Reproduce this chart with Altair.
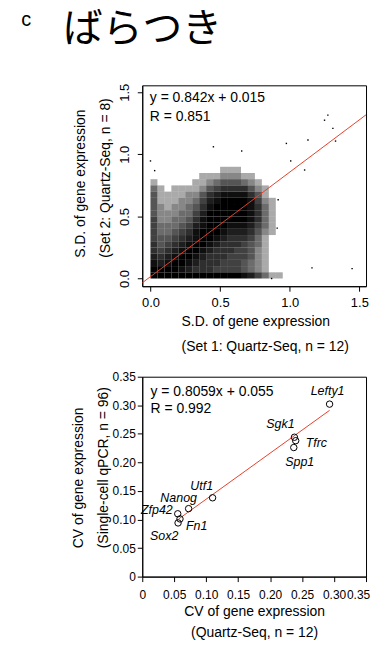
import altair as alt
import pandas as pd

FONT = "Liberation Sans"
JP_FONT = "Noto Sans CJK JP"
RED = "#e8402a"

# ---------------- top panel data (S.D. Set 1 vs Set 2) ----------------
# density of the gene cloud, cells of 0.05 x 0.05
grid_x = [0.00, 0.05, 0.10, 0.15, 0.20, 0.25, 0.30, 0.35, 0.40, 0.45,
          0.50, 0.55, 0.60, 0.65, 0.70, 0.75, 0.80, 0.85, 0.90, 0.95]
grid_y = [0.00, 0.05, 0.10, 0.15, 0.20, 0.25, 0.30, 0.35, 0.40,
          0.45, 0.50, 0.55, 0.60, 0.65, 0.70, 0.75, 0.80, 0.85]
cell = 0.05
density_rows = [  # bottom row (y 0.00) first, values 0..9
    [9, 9, 9, 9, 9, 9, 9, 9, 9, 9, 9, 9, 9, 8, 7, 5, 3, 1, 1, 0],
    [9, 9, 9, 9, 8, 7, 6, 6, 6, 5, 5, 5, 5, 4, 3, 2, 1, 0, 0, 0],
    [8, 7, 8, 9, 9, 8, 7, 6, 6, 6, 5, 5, 5, 4, 3, 2, 1, 0, 0, 0],
    [7, 6, 7, 8, 9, 9, 8, 7, 6, 6, 6, 5, 5, 5, 4, 2, 1, 0, 0, 0],
    [6, 5, 6, 7, 8, 9, 9, 8, 7, 6, 6, 6, 5, 5, 4, 2, 1, 0, 0, 0],
    [6, 4, 5, 6, 7, 8, 9, 9, 8, 7, 6, 6, 6, 5, 4, 3, 1, 0, 0, 0],
    [5, 4, 4, 5, 6, 7, 8, 9, 9, 8, 7, 6, 6, 6, 5, 3, 1, 0, 0, 0],
    [5, 3, 3, 4, 5, 6, 8, 9, 9, 9, 8, 7, 7, 7, 6, 4, 2, 1, 0, 0],
    [5, 3, 3, 3, 4, 5, 7, 8, 9, 9, 9, 8, 8, 8, 7, 5, 3, 1, 0, 0],
    [5, 2, 2, 3, 3, 4, 6, 8, 9, 9, 9, 9, 9, 9, 8, 6, 3, 1, 0, 0],
    [4, 2, 2, 2, 3, 3, 5, 7, 9, 9, 9, 9, 9, 9, 8, 6, 3, 1, 0, 0],
    [4, 2, 1, 2, 2, 3, 4, 6, 8, 9, 9, 9, 9, 9, 8, 6, 3, 1, 0, 0],
    [4, 1, 1, 1, 2, 2, 3, 5, 7, 8, 9, 9, 9, 9, 8, 5, 2, 1, 0, 0],
    [4, 1, 1, 1, 1, 2, 2, 4, 6, 7, 8, 8, 8, 8, 6, 4, 1, 0, 0, 0],
    [3, 1, 0, 1, 1, 1, 1, 2, 4, 5, 6, 6, 6, 6, 4, 2, 1, 0, 0, 0],
    [1, 0, 0, 0, 0, 0, 1, 1, 2, 3, 4, 4, 4, 3, 2, 1, 0, 0, 0, 0],
    [0, 0, 0, 0, 0, 0, 0, 1, 1, 1, 2, 2, 2, 1, 1, 0, 0, 0, 0, 0],
    [0, 0, 0, 0, 0, 0, 0, 0, 0, 0, 1, 1, 1, 0, 0, 0, 0, 0, 0, 0],
]
out_x = [1.274, 1.25, 1.31, 1.329, 1.131, 0.976, 1.007, 0.655, 0.452,
         1.107, 0.0, 0.03, 0.917, 0.91, 1.16, 1.448, 0.87]
out_y = [1.316, 1.275, 1.209, 1.107, 1.115, 1.088, 0.947, 1.027, 1.061,
         0.874, 0.947, 0.869, 0.634, 0.406, 0.086, 0.08, 0.0]
top_slope, top_intercept = 0.842, 0.015
top_line_x = [-0.059, 1.548]
top_eq = "y = 0.842x + 0.015"
top_r = "R = 0.851"

# ---------------- bottom panel data (CV) ----------------
genes = ["Lefty1", "Sgk1", "Tfrc", "Spp1", "Utf1", "Nanog", "Zfp42", "Fn1", "Sox2"]
cv_quartz = [0.293, 0.238, 0.240, 0.237, 0.110, 0.0725, 0.0555, 0.059, 0.056]
cv_qpcr = [0.302, 0.244, 0.238, 0.226, 0.138, 0.119, 0.110, 0.101, 0.094]
bot_slope, bot_intercept = 0.8059, 0.055
bot_line_x = [0.057, 0.293]
bot_eq = "y = 0.8059x + 0.055"
bot_r = "R = 0.992"

# label placement (style): dx, dy, align
label_style = {
    "Lefty1": (-2, -13, "center"),
    "Sgk1": (-14, -13, "center"),
    "Tfrc": (10, 2, "left"),
    "Spp1": (6, 15, "center"),
    "Utf1": (-11, -12, "center"),
    "Nanog": (-10, -11, "center"),
    "Zfp42": (-5, -4, "right"),
    "Fn1": (6, 7, "left"),
    "Sox2": (-14, 13, "center"),
}

# ---------------- build tables ----------------
cells = []
for r, row in enumerate(density_rows):
    for c, d in enumerate(row):
        if d > 0:
            cells.append({"x": grid_x[c], "x2": grid_x[c] + cell,
                          "y": grid_y[r], "y2": grid_y[r] + cell,
                          "d": (d / 9) ** 0.5})
cells_df = pd.DataFrame(cells)
out_df = pd.DataFrame({"x": out_x, "y": out_y})
top_line_df = pd.DataFrame({"x": top_line_x})
cv_df = pd.DataFrame({"gene": genes, "x": cv_quartz, "y": cv_qpcr})
bot_line_df = pd.DataFrame({"x": bot_line_x})

# ---------------- top chart ----------------
xs_top = alt.Scale(domain=[-0.059, 1.548], nice=False, zero=False)
ys_top = alt.Scale(domain=[-0.062, 1.556], nice=False, zero=False)
ax_x_top = alt.Axis(values=[0, 0.5, 1.0, 1.5], format=".1f",
                    title=["S.D. of gene expression", "(Set 1: Quartz-Seq, n = 12)"],
                    labelFontSize=13, titleFontSize=14, tickSize=5, labelPadding=5,
                    titlePadding=6, titleLineHeight=25, labelFlush=False,
                    titleAlign="left", titleX=39)
ax_y_top = alt.Axis(values=[0, 0.5, 1.0, 1.5], format=".1f",
                    title=["S.D. of gene expression", "(Set 2: Quartz-Seq, n = 8)"],
                    labelFontSize=13, titleFontSize=14, tickSize=5, labelPadding=6,
                    labelAngle=270, labelAlign="center", labelBaseline="bottom",
                    labelFlush=False, titleAlign="left", titleY=173,
                    titlePadding=4, titleLineHeight=25, minExtent=26, maxExtent=26)

X_top = alt.X("x:Q", scale=xs_top, axis=ax_x_top)
Y_top = alt.Y("y:Q", scale=ys_top, axis=ax_y_top)

dens = alt.Chart(cells_df).mark_rect(color="black", strokeWidth=0).encode(
    x=X_top, x2="x2:Q", y=Y_top, y2="y2:Q",
    opacity=alt.Opacity("d:Q", scale=None, legend=None))
outl = alt.Chart(out_df).mark_square(color="black", size=2, opacity=1).encode(x=X_top, y=Y_top)
tline = alt.Chart(top_line_df).mark_line(color=RED, strokeWidth=1, clip=True).transform_calculate(
    y=f"{top_slope} * datum.x + {top_intercept}").encode(x=X_top, y=Y_top)

def label(txt, x, y, size=14, font=FONT, align="left", baseline="middle", opacity=1):
    return alt.Chart(pd.DataFrame({"t": [txt]})).mark_text(
        font=font, fontSize=size, align=align, baseline=baseline, color="black",
        opacity=opacity).encode(text="t:N", x=alt.value(x), y=alt.value(y))

top = alt.layer(
    dens, outl, tline,
    label(top_eq, 7.6, 13),
    label(top_r, 7.6, 32),
    label("c", -121.7, -75.3, size=20, baseline="top"),
    label("ばらつき", -79.7, -75.3, size=40, font=JP_FONT, baseline="top"),
).properties(width=225, height=202)

# ---------------- bottom chart ----------------
xs_bot = alt.Scale(domain=[0, 0.35], nice=False, zero=False)
ys_bot = alt.Scale(domain=[0, 0.35], nice=False, zero=False)
tick_vals = [0, 0.05, 0.10, 0.15, 0.20, 0.25, 0.30, 0.35]
lab_expr = "datum.value == 0 ? '0' : format(datum.value, '.2f')"
ax_x_bot = alt.Axis(values=tick_vals, labelExpr=lab_expr,
                    title=["CV of gene expression", "(Quartz-Seq, n = 12)"],
                    labelFontSize=12, titleFontSize=14, tickSize=5, labelPadding=8,
                    labelOverlap=False, labelFlush=False, labelBound=False,
                    labelOffset={"condition": {"test": "datum.value > 0.33", "value": -8},
                                 "value": 0},
                    titlePadding=4, titleLineHeight=21)
ax_y_bot = alt.Axis(values=tick_vals, labelExpr=lab_expr,
                    title=["CV of gene expression", "(Single-cell qPCR, n = 96)"],
                    labelFontSize=12, titleFontSize=14, tickSize=5, labelPadding=2,
                    labelOverlap=False, labelFlush=False, labelBound=False,
                    titleAlign="left", titleY=172,
                    titlePadding=6, titleLineHeight=25, minExtent=26, maxExtent=26)
X_bot = alt.X("x:Q", scale=xs_bot, axis=ax_x_bot)
Y_bot = alt.Y("y:Q", scale=ys_bot, axis=ax_y_bot)

pts = alt.Chart(cv_df).mark_point(shape="circle", filled=False, color="black",
                                   size=42, strokeWidth=1, opacity=1).encode(x=X_bot, y=Y_bot)
bline = alt.Chart(bot_line_df).mark_line(color=RED, strokeWidth=1).transform_calculate(
    y=f"{bot_slope} * datum.x + {bot_intercept}").encode(x=X_bot, y=Y_bot)

gene_layers = []
for g in genes:
    dx, dy, al = label_style[g]
    gene_layers.append(
        alt.Chart(cv_df).transform_filter(alt.datum.gene == g).mark_text(
            font=FONT, fontSize=12.5, fontStyle="italic", color="black",
            align=al, baseline="middle", dx=dx, dy=dy
        ).encode(x=X_bot, y=Y_bot, text="gene:N"))

bottom = alt.layer(
    bline, pts, *gene_layers,
    label(bot_eq, 8.3, 15.3),
    label(bot_r, 8.3, 32),
    label("c", -121.7, 100, size=20, baseline="top", opacity=0),
).properties(width=225, height=201)

chart = alt.vconcat(top, bottom, spacing=15).properties(
    padding={"left": 12, "top": 0, "right": -1, "bottom": -1}
).configure_view(stroke="black", strokeWidth=1).configure_axis(
    domainColor="black", tickColor="black", labelColor="black", titleColor="black",
    labelFont=FONT, titleFont=FONT, titleFontWeight="normal", grid=False
)

chart.save("out.html", embed_options={"renderer": "svg", "actions": False})
